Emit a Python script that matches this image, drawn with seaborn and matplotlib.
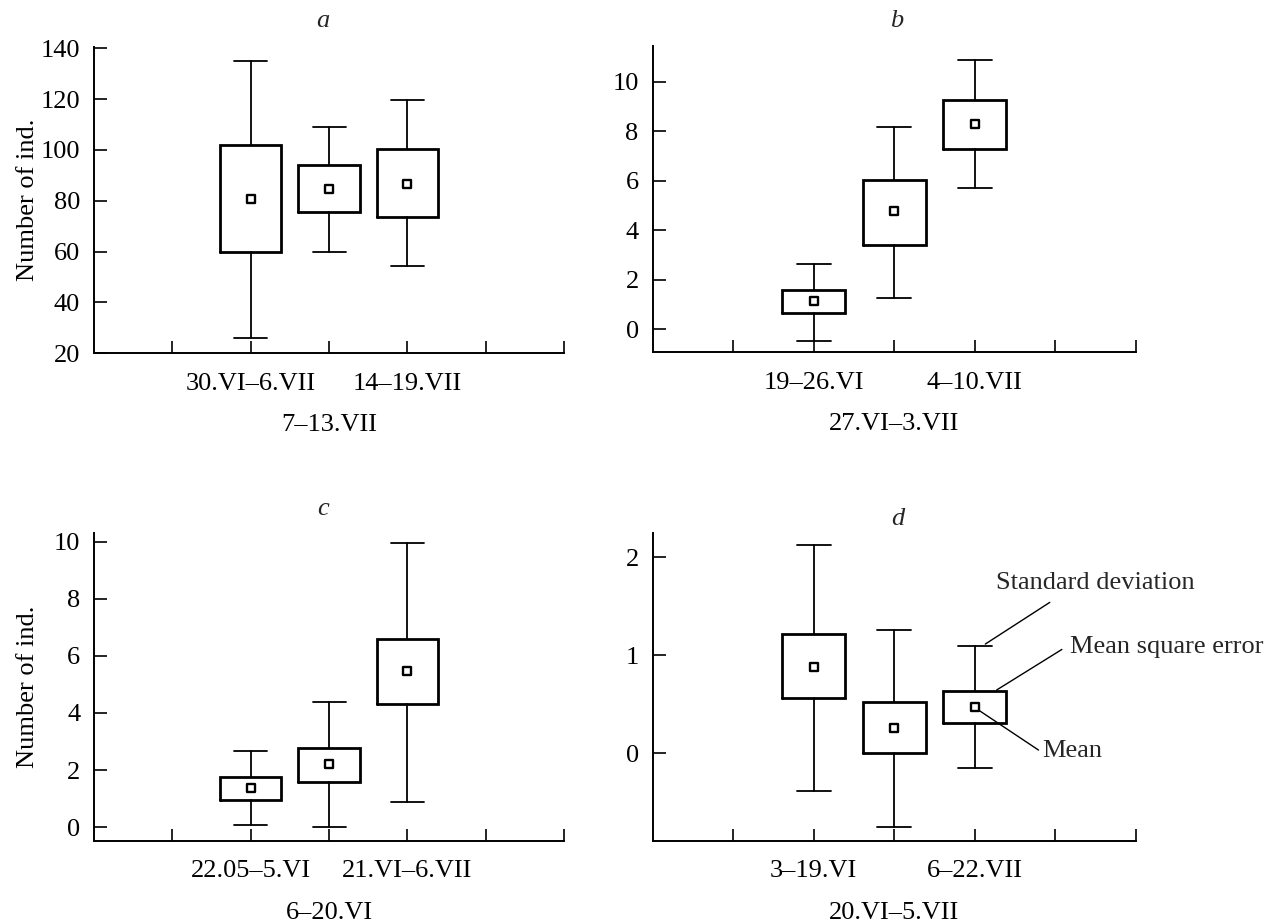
import numpy as np
import matplotlib
matplotlib.use('Agg')
import matplotlib.pyplot as plt
import seaborn as sns

# a
a_labels = ['30.VI–6.VII', '7–13.VII', '14–19.VII']
a_mean = [80.9, 84.7, 86.8]
a_se_low = [59.8, 75.7, 73.5]
a_se_high = [101.9, 94.1, 100.5]
a_sd_low = [26.1, 60.0, 54.3]
a_sd_high = [134.8, 109.0, 119.6]

# b
b_labels = ['19–26.VI', '27.VI–3.VII', '4–10.VII']
b_mean = [1.14, 4.77, 8.30]
b_se_low = [0.67, 3.42, 7.30]
b_se_high = [1.58, 6.04, 9.25]
b_sd_low = [-0.46, 1.28, 5.69]
b_sd_high = [2.64, 8.15, 10.87]

# c
c_labels = ['22.05–5.VI', '6–20.VI', '21.VI–6.VII']
c_mean = [1.37, 2.21, 5.46]
c_se_low = [0.97, 1.60, 4.32]
c_se_high = [1.77, 2.79, 6.59]
c_sd_low = [0.07, 0.0, 0.90]
c_sd_high = [2.68, 4.40, 9.94]

# d
d_labels = ['3–19.VI', '20.VI–5.VII', '6–22.VII']
d_mean = [0.88, 0.26, 0.47]
d_se_low = [0.56, 0.0, 0.31]
d_se_high = [1.22, 0.52, 0.64]
d_sd_low = [-0.38, -0.75, -0.15]
d_sd_high = [2.13, 1.26, 1.10]

FS = 19


def draw_panel(ax, letter, labels, mean, se_low, se_high, sd_low, sd_high,
               yticks, ylim, title_xy):
    pos = np.arange(len(labels)) + 2
    stats = [dict(med=m, q1=lo, q3=hi, whislo=wl, whishi=wh, fliers=[])
             for m, lo, hi, wl, wh in zip(mean, se_low, se_high, sd_low, sd_high)]
    ax.bxp(stats, positions=pos, widths=0.78, capwidths=0.42, showfliers=False,
           boxprops=dict(color='black', linewidth=2.0, solid_joinstyle='miter'),
           whiskerprops=dict(color='black', linewidth=1.3),
           capprops=dict(color='black', linewidth=1.3),
           medianprops=dict(linewidth=0), manage_ticks=False)
    sns.scatterplot(x=pos, y=mean, marker='s', s=40, color='white',
                    edgecolor='black', linewidth=1.7, zorder=5, ax=ax, legend=False)

    ax.set_xlim(0, 6)
    ax.set_ylim(*ylim)
    # outer categories on the first row, the middle one staggered below
    major_labels = [''] * 6
    major_labels[pos[0] - 1] = labels[0]
    major_labels[pos[2] - 1] = labels[2]
    ax.xaxis.remove_overlapping_locs = False
    ax.set_xticks(np.arange(1, 7), major_labels)
    ax.set_xticks([pos[1]], [labels[1]], minor=True)
    ax.set_yticks(yticks)
    ax.tick_params(axis='x', which='major', direction='in', length=8.5, width=1.2,
                   pad=14, labelsize=FS, colors='black')
    ax.tick_params(axis='x', which='minor', direction='in', length=0,
                   pad=44, labelsize=FS, colors='black')
    ax.tick_params(axis='y', direction='in', length=9, width=1.2, pad=10,
                   labelsize=FS, colors='black')
    sns.despine(ax=ax)
    for s in ['left', 'bottom']:
        ax.spines[s].set_linewidth(1.4)
        ax.spines[s].set_color('black')
    ax.text(title_xy[0], title_xy[1], letter, transform=ax.transAxes,
            ha='center', va='baseline', style='italic', fontsize=FS)


sns.set_theme(style='ticks')
plt.rcParams['font.family'] = ['Liberation Serif', 'DejaVu Serif']

fig = plt.figure(figsize=(12.69, 9.24), dpi=100)
ax_a = fig.add_axes([0.0741, 0.6176, 0.3704, 0.3318])
ax_b = fig.add_axes([0.5142, 0.6187, 0.3810, 0.3318])
ax_c = fig.add_axes([0.0741, 0.0902, 0.3704, 0.3327])
ax_d = fig.add_axes([0.5142, 0.0902, 0.3810, 0.3327])

draw_panel(ax_a, 'a', a_labels, a_mean, a_se_low, a_se_high, a_sd_low, a_sd_high,
           np.arange(20, 141, 20), (20, 140.6), (0.486, 1.065))
draw_panel(ax_b, 'b', b_labels, b_mean, b_se_low, b_se_high, b_sd_low, b_sd_high,
           np.arange(0, 11, 2), (-0.93, 11.45), (0.505, 1.062))
draw_panel(ax_c, 'c', c_labels, c_mean, c_se_low, c_se_high, c_sd_low, c_sd_high,
           np.arange(0, 11, 2), (-0.47, 10.29), (0.488, 1.06))
draw_panel(ax_d, 'd', d_labels, d_mean, d_se_low, d_se_high, d_sd_low, d_sd_high,
           [0, 1, 2], (-0.89, 2.245), (0.507, 1.027))

for ax in (ax_a, ax_c):
    ax.set_ylabel('Number of ind.', fontsize=FS, color='black')
    ax.yaxis.set_label_coords(-0.118, 0.5)

# callouts on panel d
line_kw = dict(arrowstyle='-', color='black', lw=1.0, shrinkA=0, shrinkB=0)
ax_d.annotate('', xy=(4.13, 1.115), xytext=(4.93, 1.54), arrowprops=line_kw)
ax_d.annotate('', xy=(4.27, 0.646), xytext=(5.08, 1.06), arrowprops=line_kw)
ax_d.annotate('', xy=(4.045, 0.442), xytext=(4.79, 0.034), arrowprops=line_kw)
ax_d.text(4.26, 1.673, 'Standard deviation', fontsize=FS, va='baseline', ha='left')
ax_d.text(5.18, 1.02, 'Mean square error', fontsize=FS, va='baseline', ha='left')
ax_d.text(4.84, -0.035, 'Mean', fontsize=FS, va='baseline', ha='left')

fig.savefig('out.png', dpi=100, facecolor='white')
